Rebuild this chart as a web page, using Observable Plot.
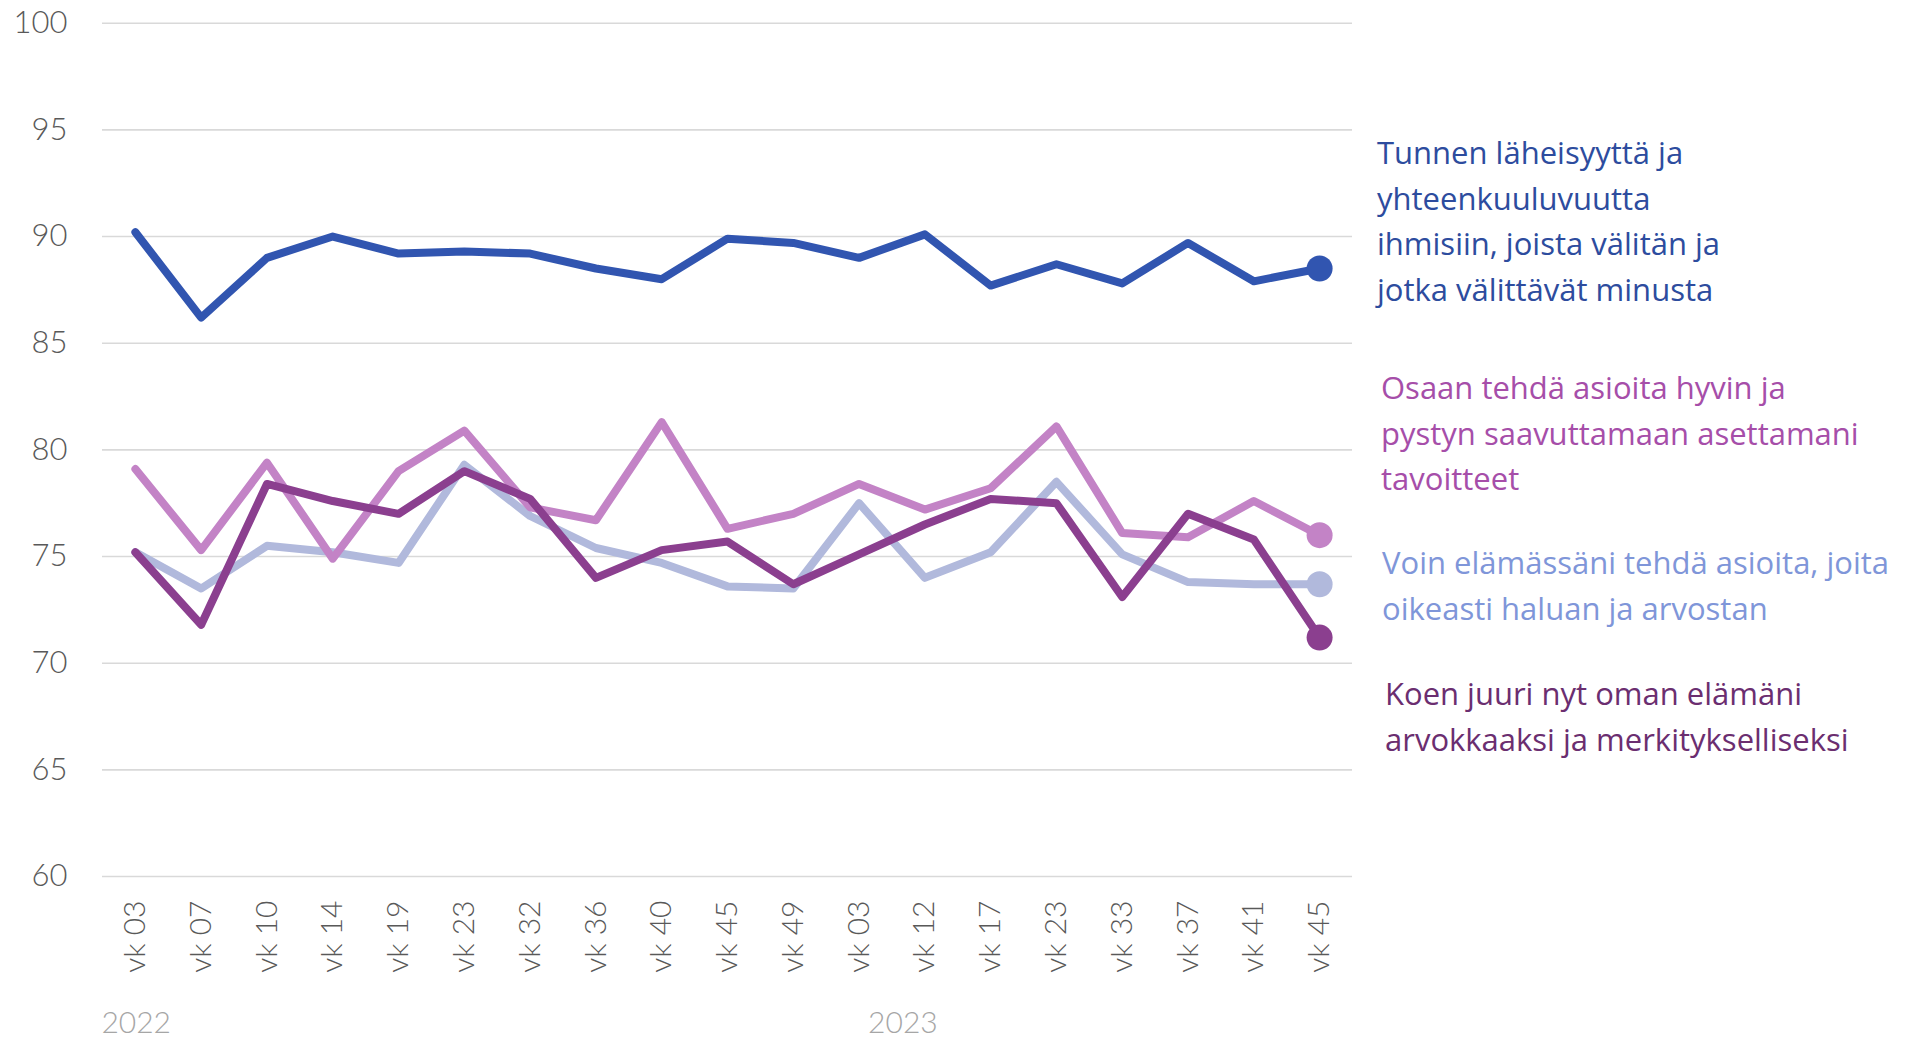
<!DOCTYPE html>
<html>
<head>
<meta charset="utf-8">
<script src="https://cdn.jsdelivr.net/npm/d3@7"></script>
<script src="https://cdn.jsdelivr.net/npm/@observablehq/plot@0.6"></script>
<style>
  html, body { margin: 0; padding: 0; background: #fff; }
  #wrap { position: relative; width: 1906px; height: 1038px; overflow: hidden; }
  .leg { position: absolute; font-family: "Open Sans", sans-serif; font-size: 31px; line-height: 45.5px; white-space: nowrap; }
</style>
</head>
<body>
<div id="wrap"></div>
<script>
const weeks = ["vk 03","vk 07","vk 10","vk 14","vk 19","vk 23","vk 32","vk 36","vk 40","vk 45","vk 49","vk 03","vk 12","vk 17","vk 23","vk 33","vk 37","vk 41","vk 45"];
const years = [2022,2022,2022,2022,2022,2022,2022,2022,2022,2022,2022,2023,2023,2023,2023,2023,2023,2023,2023];
const yTicks = [60, 65, 70, 75, 80, 85, 90, 95, 100];

const tunnen = [90.2, 86.2, 89.0, 90.0, 89.2, 89.3, 89.2, 88.5, 88.0, 89.9, 89.7, 89.0, 90.1, 87.7, 88.7, 87.8, 89.7, 87.9, 88.5];
const osaan  = [79.1, 75.3, 79.4, 74.9, 79.0, 80.9, 77.3, 76.7, 81.3, 76.3, 77.0, 78.4, 77.2, 78.2, 81.1, 76.1, 75.9, 77.6, 76.0];
const voin   = [75.2, 73.5, 75.5, 75.2, 74.7, 79.3, 76.9, 75.4, 74.7, 73.6, 73.5, 77.5, 74.0, 75.2, 78.5, 75.1, 73.8, 73.7, 73.7];
const koen   = [75.2, 71.8, 78.4, 77.6, 77.0, 79.0, 77.7, 74.0, 75.3, 75.7, 73.7, 75.1, 76.5, 77.7, 77.5, 73.1, 77.0, 75.8, 71.2];

const seriesNames = ["Voin", "Osaan", "Koen", "Tunnen"];
const seriesValues = [voin, osaan, koen, tunnen];
const seriesColors = ["#b1b9dc", "#c383c6", "#8b3f8f", "#3155b0"];

const legendTexts = [
  "Tunnen läheisyyttä ja<br>yhteenkuuluvuutta<br>ihmisiin, joista välitän ja<br>jotka välittävät minusta",
  "Osaan tehdä asioita hyvin ja<br>pystyn saavuttamaan asettamani<br>tavoitteet",
  "Voin elämässäni tehdä asioita, joita<br>oikeasti haluan ja arvostan",
  "Koen juuri nyt oman elämäni<br>arvokkaaksi ja merkitykselliseksi"
];
const legendColors = ["#2d4c9e", "#a64ea9", "#7f96d9", "#6b2e70"];
const legendPos = [[1377, 130], [1381, 365], [1382, 540], [1385, 671]];

const keys = weeks.map((w, i) => years[i] + "|" + w);

const data = [];
seriesNames.forEach((s, si) => {
  seriesValues[si].forEach((v, i) => data.push({series: s, key: keys[i], value: v, last: i === keys.length - 1}));
});

const colorScale = {domain: seriesNames, range: seriesColors};

const chart = Plot.plot({
  width: 1906,
  height: 1038,
  marginLeft: 102,
  marginRight: 554,
  marginTop: 22.7,
  marginBottom: 162,
  style: {fontFamily: "Lato, sans-serif", background: "transparent"},
  x: {type: "point", domain: keys, padding: 0.5, round: false},
  y: {domain: [60, 100]},
  color: colorScale,
  marks: [
    Plot.gridY(yTicks, {stroke: "#d9d9d9", strokeOpacity: 1, strokeWidth: 1.6}),
    Plot.axisY(yTicks, {tickSize: 0, tickPadding: 35, fontSize: 31, fontWeight: 300, fill: "#595959", label: null}),
    Plot.axisX({tickSize: 0, tickRotate: -90, tickPadding: 24, fontSize: 30, fontWeight: 300, fill: "#595959", label: null,
      tickFormat: k => k.split("|")[1]}),
    Plot.text([{k: keys[0], t: String(years[0])}], {x: "k", y: () => 60, text: "t", dy: 147, dx: -34, textAnchor: "start", lineAnchor: "middle", fontSize: 30, fontWeight: 300, fill: "#a6a6a6"}),
    Plot.text([{k: keys[11], t: String(years[11])}], {x: "k", y: () => 60, text: "t", dy: 147, dx: 9, textAnchor: "start", lineAnchor: "middle", fontSize: 30, fontWeight: 300, fill: "#a6a6a6"}),
    Plot.line(data, {x: "key", y: "value", z: "series", stroke: "series", strokeWidth: 8, strokeLinejoin: "round", strokeLinecap: "round"}),
    Plot.dot(data.filter(d => d.last), {x: "key", y: "value", fill: "series", r: 13, stroke: null})
  ]
});

const wrap = document.getElementById("wrap");
wrap.appendChild(chart);
legendTexts.forEach((t, i) => {
  const d = document.createElement("div");
  d.className = "leg";
  d.innerHTML = t;
  d.style.color = legendColors[i];
  d.style.left = legendPos[i][0] + "px";
  d.style.top = legendPos[i][1] + "px";
  wrap.appendChild(d);
});
</script>
</body>
</html>
